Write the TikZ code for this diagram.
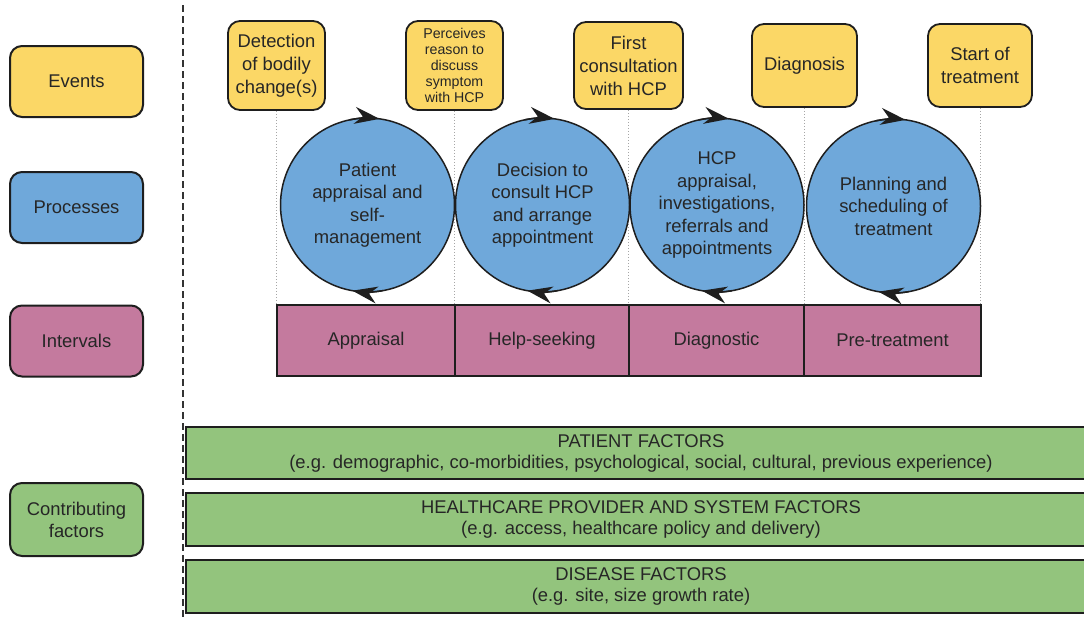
\documentclass[tikz,border=0pt]{standalone}
\usepackage{fontspec}
\setmainfont{Liberation Sans}
\usetikzlibrary{arrows.meta,calc}
\definecolor{evY}{HTML}{FBD766}
\definecolor{prB}{HTML}{6FA8DA}
\definecolor{inP}{HTML}{C47A9E}
\definecolor{cfG}{HTML}{93C47D}
\definecolor{ink}{HTML}{262626}
\definecolor{edgec}{HTML}{1E1E1E}
\begin{document}
\begin{tikzpicture}[x=1pt,y=-1pt, font=\fontsize{18.4}{22}\selectfont, text=ink,
 legendbox/.style={draw=edgec, line width=2pt, rounded corners=12pt, minimum width=133pt, minimum height=71pt, align=center, inner sep=0pt},
 eventbox/.style={draw=edgec, line width=1.8pt, fill=evY, rounded corners=12pt, align=center, inner sep=0pt, font=\fontsize{18.4}{23}\selectfont},
 procnode/.style={circle, draw=edgec, line width=1.5pt, fill=prB, minimum size=174pt, inner sep=0pt, align=center, font=\fontsize{18.4}{22.5}\selectfont},
 intbox/.style={draw=edgec, line width=1.5pt, fill=inP, minimum height=71pt, inner sep=0pt},
 factbar/.style={draw=edgec, line width=1.8pt, fill=cfG, minimum height=52pt, minimum width=910pt, inner sep=0pt, align=center, font=\fontsize{18.4}{21}\selectfont},
 dotline/.style={draw=gray!70, line width=1pt, dotted},
 cyc/.style={draw=edgec, line width=1.5pt, -{Stealth[length=25pt,width=17pt,inset=8pt]}},
]
\useasboundingbox (0,0) rectangle (1084,619);
\clip (0,0) rectangle (1084,619);

% legend
\node[legendbox, fill=evY] (lev) at (76.5,81.5) {Events};
\node[legendbox, fill=prB] (lpr) at (76.5,207.5) {Processes};
\node[legendbox, fill=inP] (lin) at (76.5,341) {Intervals};
\node[legendbox, fill=cfG, minimum height=73pt] (lcf) at (76.5,519.5) {Contributing\\factors};

% separator
\coordinate (dtop) at (183,5);
\coordinate (dbot) at (183,619);
\draw[line width=2pt, draw=gray!40!black, dash pattern=on 7pt off 4pt] (dtop) -- (dbot);

% events
\node[eventbox, minimum width=97pt, minimum height=89pt] (e1) at (276.5,65.5) {Detection\\of bodily\\change(s)};
\node[eventbox, minimum width=97pt, minimum height=89pt, font=\fontsize{14.2}{16}\selectfont] (e2) at (454.5,65.5) {Perceives\\reason to\\discuss\\symptom\\with HCP};
\node[eventbox, minimum width=109pt, minimum height=87pt] (e3) at (628.5,65.5) {First\\consultation\\with HCP};
\node[eventbox, minimum width=105pt, minimum height=83pt] (e4) at (804.5,65.5) {Diagnosis};
\node[eventbox, minimum width=104pt, minimum height=83pt] (e5) at (980,65.5) {Start of\\treatment};

% dotted guides
\coordinate (ib) at (0,376);
\foreach \e in {e1,e2,e3,e4,e5}{
  \draw[dotline] (\e.south) -- (\e.south |- ib);
}

% processes
\node[procnode] (c1) at (367.5,205) {Patient\\appraisal and\\self-\\management};
\node[procnode] (c2) at (542.5,205) {Decision to\\consult HCP\\and arrange\\appointment};
\node[procnode] (c3) at (717,205) {HCP\\appraisal,\\investigations,\\referrals and\\appointments};
\node[procnode] (c4) at (893.5,206) {Planning and\\scheduling of\\treatment};

\foreach \c in {c1,c2,c3,c4}{
  \draw[cyc] ($(\c)+(258:87)$) arc[start angle=258, end angle=278, radius=87];
  \draw[cyc] ($(\c)+(80:87)$) arc[start angle=80, end angle=100, radius=87];
}

% interval bars
\node[intbox, minimum width=178pt] (i1) at (366,340.5) {Appraisal};
\node[intbox, minimum width=174pt] (i2) at (542,340.5) {Help-seeking};
\node[intbox, minimum width=175pt] (i3) at (716.5,340.5) {Diagnostic};
\node[intbox, minimum width=177pt] (i4) at (892.5,340.5) {Pre-treatment};

% factors
\node[factbar] (f1) at (641,453) {PATIENT FACTORS\\(e.g. demographic, co-morbidities, psychological, social, cultural, previous experience)};
\node[factbar, minimum height=53pt] (f2) at (641,519.5) {HEALTHCARE PROVIDER AND SYSTEM FACTORS\\(e.g. access, healthcare policy and delivery)};
\node[factbar, minimum height=53pt] (f3) at (641,586.5) {DISEASE FACTORS\\(e.g. site, size growth rate)};
\end{tikzpicture}
\end{document}
